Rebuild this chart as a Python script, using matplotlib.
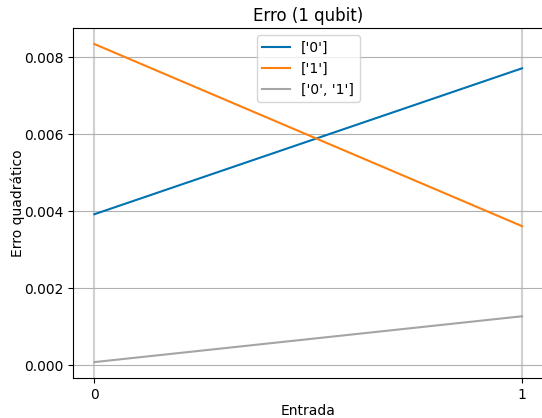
import matplotlib
matplotlib.use("Agg")
import matplotlib.pyplot as plt

# entrada values and squared error per measured state
entradas = [0, 1]
erro_0 = [0.00392, 0.00771]
erro_1 = [0.00834, 0.00361]
erro_01 = [0.00008, 0.00127]
labels = ["['0']", "['1']", "['0', '1']"]

fig = plt.figure(figsize=(5.42, 4.18), dpi=100)
ax = fig.add_axes([0.1347, 0.0957, 0.868, 0.837])  # right edge runs off the figure like the reference

ax.plot(entradas, erro_0, color='#0072B2', label=labels[0])
ax.plot(entradas, erro_1, color='#FF7F0E', label=labels[1])
ax.plot(entradas, erro_01, color='#A5A5A5', label=labels[2])

ax.set_xticks(entradas)
ax.grid(axis='x', color='#d0d0d0', linewidth=1.5)
ax.grid(axis='y', color='#b0b0b0', linewidth=0.8)
ax.set_title('Erro (1 qubit)', pad=5)
ax.set_xlabel('Entrada', labelpad=2)
ax.set_ylabel('Erro quadrático', labelpad=-1)
ax.legend(loc='upper center')

fig.savefig('out.png', dpi=100)
